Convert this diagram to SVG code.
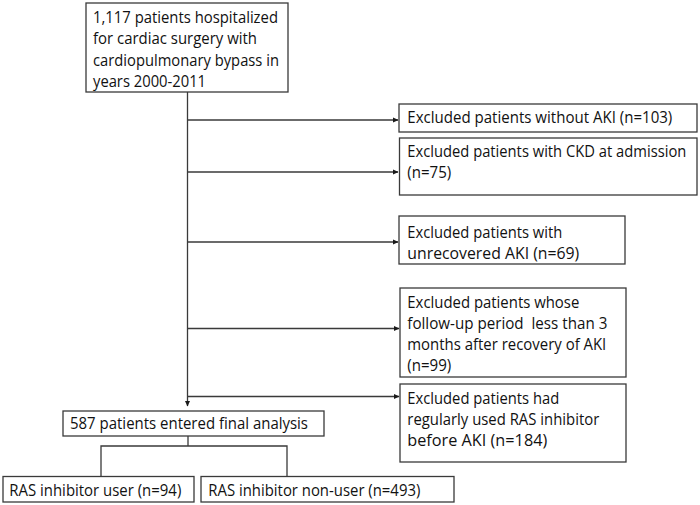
<svg xmlns="http://www.w3.org/2000/svg" width="700" height="505" viewBox="0 0 700 505">
<style>
.box{fill:#fff;stroke:#3a3a3a;stroke-width:1.3}
.t{font-family:"Open Sans","Noto Sans",sans-serif;font-size:15.5px;fill:#111}
.ln{fill:none;stroke:#3a3a3a;stroke-width:1.3}
</style>
<defs>
<marker id="ah" markerWidth="6" markerHeight="6" refX="5" refY="3" orient="auto" markerUnits="userSpaceOnUse">
<path d="M0,0.5 L5.5,3 L0,5.5 Z" fill="#1a1a1a"/>
</marker>
</defs>
<rect width="700" height="505" fill="#fff"/>
<g id="connectors">
<path class="ln" d="M187.5,92 V406" marker-end="url(#ah)"/>
<path class="ln" d="M188,120 H398" marker-end="url(#ah)"/>
<path class="ln" d="M188,172 H398" marker-end="url(#ah)"/>
<path class="ln" d="M188,242 H398" marker-end="url(#ah)"/>
<path class="ln" d="M188,328.5 H399" marker-end="url(#ah)"/>
<path class="ln" d="M188,396.5 H399" marker-end="url(#ah)"/>
<path class="ln" d="M188,436 V446 M101,477 V446 H287 V477"/>
</g>
<g id="start">
<rect class="box" x="86" y="3" width="202" height="89"/>
<text class="t" x="93" y="22.5" textLength="185" lengthAdjust="spacingAndGlyphs">1,117 patients hospitalized</text>
<text class="t" x="93" y="44" textLength="164" lengthAdjust="spacingAndGlyphs">for cardiac surgery with</text>
<text class="t" x="93" y="65.5" textLength="186" lengthAdjust="spacingAndGlyphs">cardiopulmonary bypass in</text>
<text class="t" x="93" y="86.5" textLength="113" lengthAdjust="spacingAndGlyphs">years 2000-2011</text>
</g>
<g id="ex1">
<rect class="box" x="399" y="104" width="298" height="28"/>
<text class="t" x="407.3" y="123" textLength="265" lengthAdjust="spacingAndGlyphs">Excluded patients without AKI (n=103)</text>
</g>
<g id="ex2">
<rect class="box" x="399.5" y="138" width="297.5" height="57"/>
<text class="t" x="407.3" y="157" textLength="279" lengthAdjust="spacingAndGlyphs">Excluded patients with CKD at admission</text>
<text class="t" x="407.3" y="178" textLength="44" lengthAdjust="spacingAndGlyphs">(n=75)</text>
</g>
<g id="ex3">
<rect class="box" x="399" y="216" width="226" height="48"/>
<text class="t" x="407.3" y="238" textLength="155" lengthAdjust="spacingAndGlyphs">Excluded patients with</text>
<text class="t" x="407.3" y="258.5" textLength="172" lengthAdjust="spacingAndGlyphs">unrecovered AKI (n=69)</text>
</g>
<g id="ex4">
<rect class="box" x="400" y="288" width="226" height="89"/>
<text class="t" x="407.3" y="308" textLength="172" lengthAdjust="spacingAndGlyphs">Excluded patients whose</text>
<text class="t" x="407.3" y="329" textLength="200" lengthAdjust="spacingAndGlyphs" xml:space="preserve">follow-up period  less than 3</text>
<text class="t" x="407.3" y="350" textLength="199" lengthAdjust="spacingAndGlyphs">months after recovery of AKI</text>
<text class="t" x="407.3" y="370.5" textLength="44" lengthAdjust="spacingAndGlyphs">(n=99)</text>
</g>
<g id="ex5">
<rect class="box" x="400" y="384" width="226" height="78"/>
<text class="t" x="407.3" y="404" textLength="152" lengthAdjust="spacingAndGlyphs">Excluded patients had</text>
<text class="t" x="407.3" y="425" textLength="192" lengthAdjust="spacingAndGlyphs">regularly used RAS inhibitor</text>
<text class="t" x="407.3" y="446" textLength="140" lengthAdjust="spacingAndGlyphs">before AKI (n=184)</text>
</g>
<g id="final">
<rect class="box" x="63" y="411" width="261" height="25"/>
<text class="t" x="70" y="429" textLength="238" lengthAdjust="spacingAndGlyphs">587 patients entered final analysis</text>
</g>
<g id="user">
<rect class="box" x="3" y="476.5" width="191" height="25.5"/>
<text class="t" x="9.3" y="495.5" textLength="172" lengthAdjust="spacingAndGlyphs">RAS inhibitor user (n=94)</text>
</g>
<g id="nonuser">
<rect class="box" x="201" y="476.5" width="253" height="25.5"/>
<text class="t" x="208.3" y="495.5" textLength="212" lengthAdjust="spacingAndGlyphs">RAS inhibitor non-user (n=493)</text>
</g>
</svg>
